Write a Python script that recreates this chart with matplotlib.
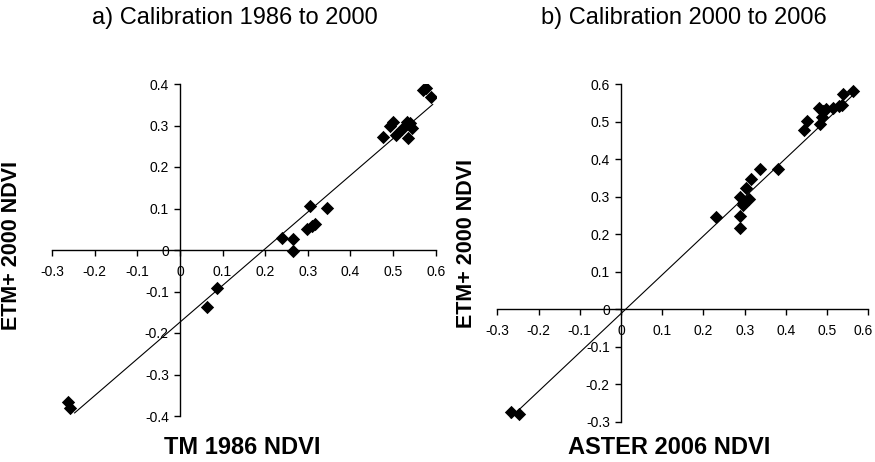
import matplotlib
matplotlib.use("Agg")
import matplotlib.pyplot as plt
import matplotlib.transforms as mtransforms
import numpy as np

plt.rcParams["font.family"] = ["Liberation Sans", "DejaVu Sans"]

# Panel a: TM 1986 vs ETM+ 2000 NDVI
tm1986 = [-0.263, -0.258, 0.063, 0.088, 0.239, 0.266, 0.265, 0.305, 0.299, 0.309,
          0.316, 0.345, 0.476, 0.493, 0.501, 0.506, 0.521, 0.534, 0.532, 0.540,
          0.544, 0.570, 0.578, 0.590]
etm_a = [-0.367, -0.380, -0.138, -0.091, 0.030, 0.026, -0.002, 0.106, 0.050, 0.058,
         0.062, 0.102, 0.273, 0.299, 0.308, 0.277, 0.291, 0.271, 0.309, 0.305,
         0.293, 0.386, 0.390, 0.369]
fit_a = (0.885, -0.174)
fit_a_range = (-0.247, 0.593)

# Panel b: ASTER 2006 vs ETM+ 2000 NDVI
aster2006 = [-0.267, -0.247, 0.231, 0.289, 0.289, 0.289, 0.295, 0.297, 0.310, 0.303,
             0.316, 0.337, 0.380, 0.445, 0.451, 0.481, 0.483, 0.488, 0.491, 0.498,
             0.514, 0.530, 0.536, 0.538, 0.562]
etm_b = [-0.275, -0.280, 0.246, 0.298, 0.247, 0.215, 0.284, 0.278, 0.293, 0.324,
         0.346, 0.373, 0.373, 0.477, 0.502, 0.536, 0.493, 0.511, 0.528, 0.533,
         0.536, 0.542, 0.544, 0.573, 0.582]
fit_b = (1.035, -0.012)
fit_b_range = (-0.268, 0.565)

x_ticks = [-0.3, -0.2, -0.1, 0, 0.1, 0.2, 0.3, 0.4, 0.5, 0.6]
y_ticks_a = [-0.4, -0.3, -0.2, -0.1, 0, 0.1, 0.2, 0.3, 0.4]
y_ticks_b = [-0.3, -0.2, -0.1, 0, 0.1, 0.2, 0.3, 0.4, 0.5, 0.6]


def fmt(v):
    s = f"{v:.1f}"
    return "0" if s in ("0.0", "-0.0") else s


W, H = 875, 462
fig = plt.figure(figsize=(W / 100, H / 100), dpi=100)


def make_axes(l, r, t, b):
    return fig.add_axes([l / W, 1 - b / H, (r - l) / W, (b - t) / H])


tick_font = dict(family=["Liberation Sans Narrow", "Liberation Sans"], size=10)


def draw_panel(ax, x, y, fit, frange, yticks):
    ax.scatter(x, y, marker="D", s=46, color="black", zorder=3, linewidths=0)
    xs = np.array(frange)
    ax.plot(xs, fit[0] * xs + fit[1], color="black", lw=0.8, zorder=2)
    ax.set_xlim(x_ticks[0], x_ticks[-1])
    ax.set_ylim(yticks[0], yticks[-1])
    for s in ("top", "right"):
        ax.spines[s].set_visible(False)
    ax.spines["left"].set_position(("data", 0))
    ax.spines["bottom"].set_position(("data", 0))
    for s in ("left", "bottom"):
        ax.spines[s].set_linewidth(1.0)
    ax.set_xticks(x_ticks)
    ax.set_xticklabels([fmt(v) for v in x_ticks], **tick_font)
    ax.set_yticks(yticks)
    ax.set_yticklabels([fmt(v) for v in yticks], **tick_font)
    ax.tick_params(axis="both", direction="out", length=4.5, width=1.0)
    ax.tick_params(axis="x", pad=6.5)
    ax.tick_params(axis="y", pad=3.5)
    ax.set_facecolor("none")


ax1 = make_axes(52, 435.7, 84, 416)
draw_panel(ax1, tm1986, etm_a, fit_a, fit_a_range, y_ticks_a)
ax2 = make_axes(497.3, 868.3, 84, 421.7)
draw_panel(ax2, aster2006, etm_b, fit_b, fit_b_range, y_ticks_b)

# keep the last x tick label of panel b inside the figure edge
last = ax2.get_xticklabels()[-1]
last.set_transform(last.get_transform()
                   + mtransforms.ScaledTranslation(-5 / 100, 0, fig.dpi_scale_trans))

fig.text(235 / W, 1 - 18 / H, "a) Calibration 1986 to 2000", ha="center", va="center", fontsize=17)
fig.text(684 / W, 1 - 18 / H, "b) Calibration 2000 to 2006", ha="center", va="center", fontsize=17)
fig.text(242 / W, 1 - 447 / H, "TM 1986 NDVI", ha="center", va="center", fontsize=17, fontweight="bold")
fig.text(669 / W, 1 - 447 / H, "ASTER 2006 NDVI", ha="center", va="center", fontsize=17, fontweight="bold")
fig.text(12 / W, 1 - 245 / H, "ETM+ 2000 NDVI", ha="center", va="center", rotation=90, fontsize=15.5, fontweight="bold")
fig.text(467 / W, 1 - 243 / H, "ETM+ 2000 NDVI", ha="center", va="center", rotation=90, fontsize=15.5, fontweight="bold")

fig.savefig("out.png", dpi=100, facecolor="white")
